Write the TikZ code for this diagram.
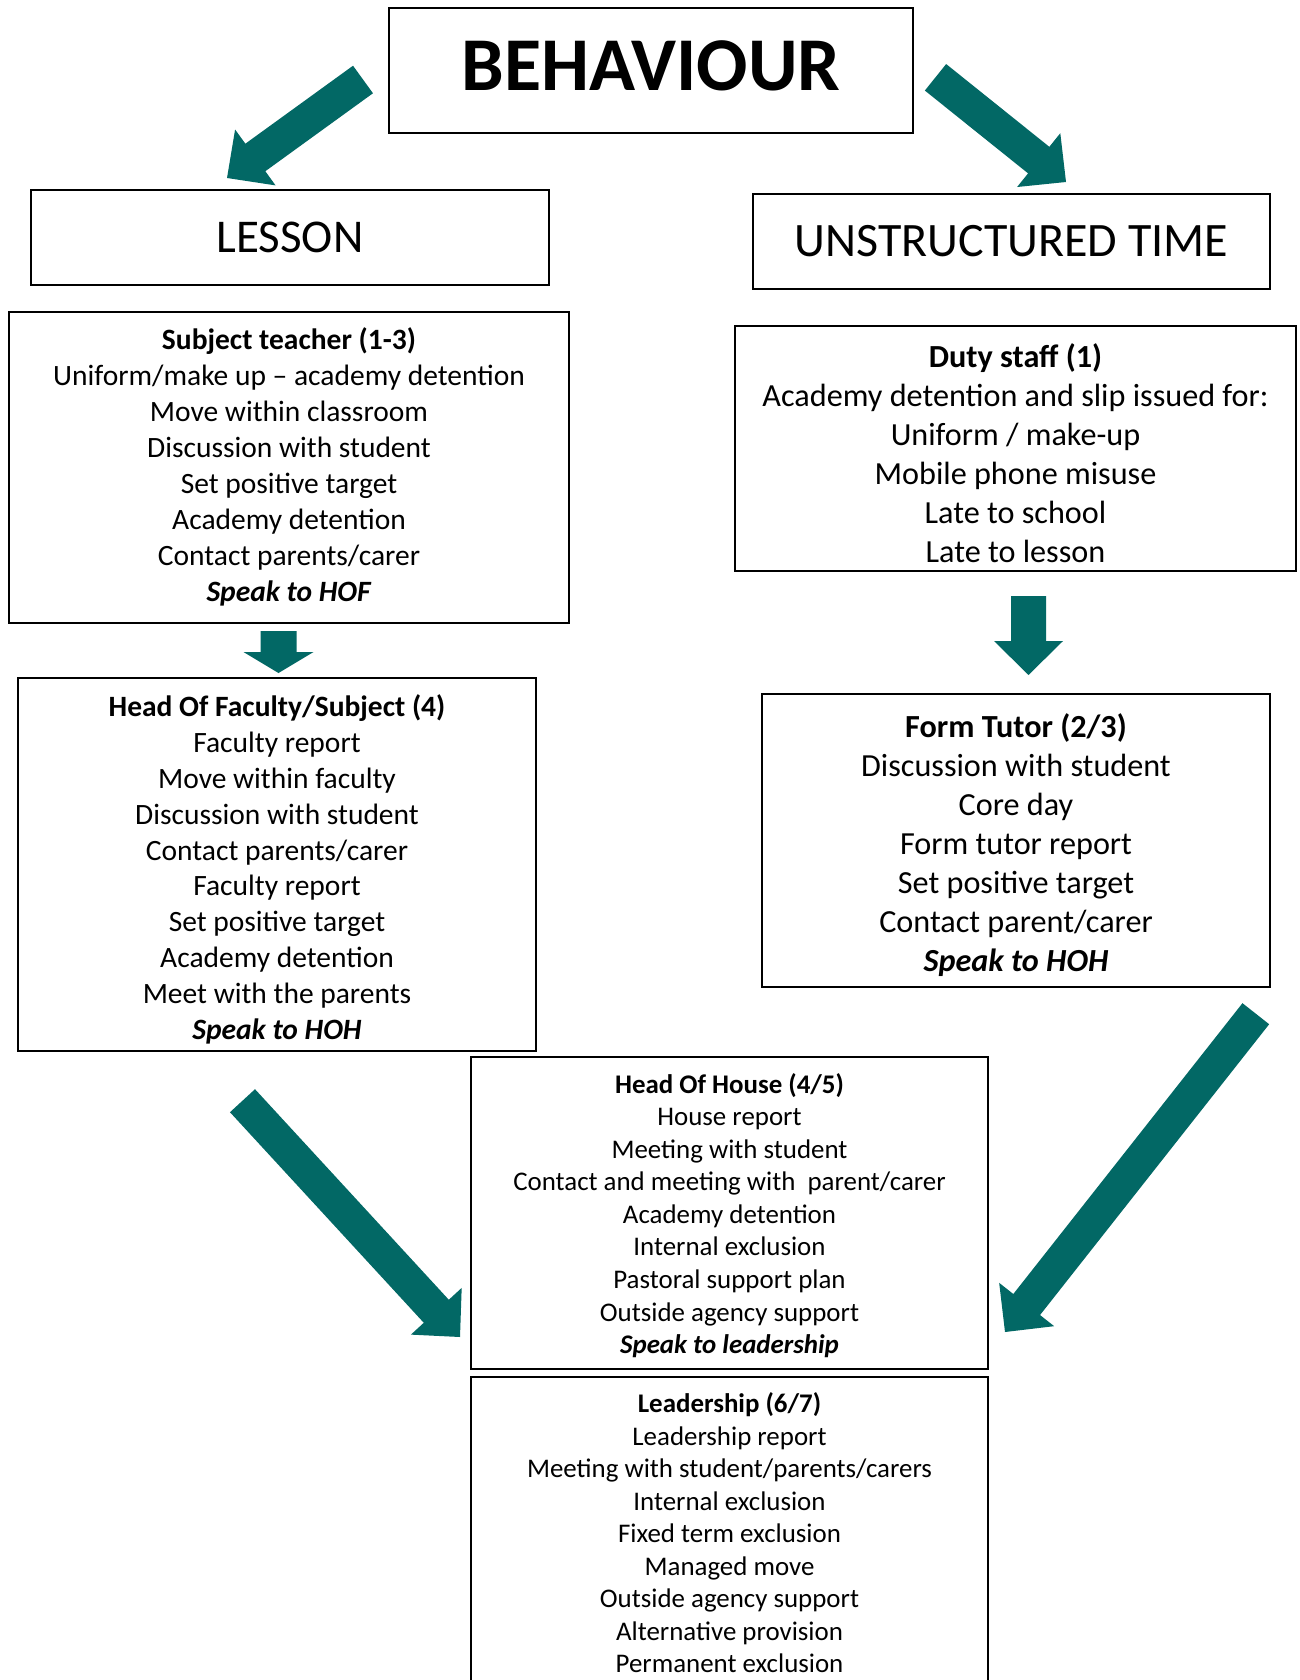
\documentclass[tikz,border=0pt]{standalone}
\usepackage{fontspec}
\setmainfont{Carlito}
\usetikzlibrary{calc}
\definecolor{arrowteal}{RGB}{2,104,101}
\newcommand{\blockarrow}[6]{%
  \coordinate (#1b) at ($(#3)!#6!(#2)$);
  \fill[arrowteal] ($(#2)!#4!90:(#3)$) -- ($(#1b)!#4!90:(#3)$) -- ($(#1b)!#5!90:(#3)$) -- (#3)
    -- ($(#1b)!#5!-90:(#3)$) -- ($(#1b)!#4!-90:(#3)$) -- ($(#2)!#4!-90:(#3)$) -- cycle;
}
\newcommand{\boxlines}[2]{\raisebox{-#1}[\height][\depth]{\begin{tabular}{@{}c@{}}#2\end{tabular}}}
\tikzset{
  box/.style={draw=black, line width=2pt, fill=white, rectangle, inner sep=0pt},
  fbig/.style={font={\fontsize{29.5}{35.9}\selectfont}},
  fmid/.style={font={\fontsize{32.2}{39}\selectfont}},
  fsmall/.style={font={\fontsize{26.9}{32.55}\selectfont}},
}
\begin{document}
\begin{tikzpicture}[x=1pt,y=-1pt]
\useasboundingbox (0,0) rectangle (1300,1680);
\fill[white] (0,0) rectangle (1300,1680);
\begin{scope}
\clip (0,0) rectangle (1300,1680);
\node[box, minimum width=524, minimum height=125, font={\fontsize{76}{80}\selectfont\bfseries}] (beh) at (651,70.5) {\raisebox{5pt}[\height][\depth]{BEHAVIOUR}};
\node[box, minimum width=518, minimum height=95, font={\fontsize{47}{52}\selectfont}] (lesson) at (290,237.5) {LESSON};
\node[box, minimum width=517, minimum height=95, font={\fontsize{48}{52}\selectfont}] (unstr) at (1011.5,241.5) {UNSTRUCTURED TIME};
\node[box, fbig, minimum width=560, minimum height=311] (subj) at (289,467.5) {\boxlines{0.9pt}{\textbf{Subject teacher (1-3)}\\Uniform/make up – academy detention\\Move within classroom\\Discussion with student\\Set positive target\\Academy detention\\Contact parents/carer\\\textbf{\itshape Speak to HOF}}};
\node[box, fmid, minimum width=561, minimum height=245] (duty) at (1015.5,448.5) {\boxlines{8.7pt}{\textbf{Duty staff (1)}\\Academy detention and slip issued for:\\Uniform / make-up\\Mobile phone misuse\\Late to school\\Late to lesson}};
\node[box, fbig, minimum width=518, minimum height=373] (hof) at (277,864.5) {\boxlines{6.3pt}{\textbf{Head Of Faculty/Subject (4)}\\Faculty report\\Move within faculty\\Discussion with student\\Contact parents/carer\\Faculty report\\Set positive target\\Academy detention\\Meet with the parents\\\textbf{\itshape Speak to HOH}}};
\node[box, fmid, minimum width=508, minimum height=293] (form) at (1016,840.5) {\boxlines{5.7pt}{\textbf{Form Tutor (2/3)}\\Discussion with student\\Core day\\Form tutor report\\Set positive target\\Contact parent/carer\\\textbf{\itshape Speak to HOH}}};
\node[box, fsmall, minimum width=517, minimum height=312] (hoh) at (729.5,1213) {\boxlines{3.9pt}{\textbf{Head Of House (4/5)}\\House report\\Meeting with student\\Contact and meeting with\ \ parent/carer\\Academy detention\\Internal exclusion\\Pastoral support plan\\Outside agency support\\\textbf{\itshape Speak to leadership}}};
\node[box, fsmall, minimum width=517, minimum height=314] (lead) at (729.5,1534) {\boxlines{2.2pt}{\textbf{Leadership (6/7)}\\Leadership report\\Meeting with student/parents/carers\\Internal exclusion\\Fixed term exclusion\\Managed move\\Outside agency support\\Alternative provision\\Permanent exclusion}};
\end{scope}
% arrows
\coordinate (a1t) at (363,79.5);   \coordinate (a1h) at (227,178);
\coordinate (a2t) at (935.5,77.3); \coordinate (a2h) at (1066,182);
\coordinate (a3t) at (278.5,631);  \coordinate (a3h) at (278.5,673);
\coordinate (a4t) at (1028.5,596); \coordinate (a4h) at (1028.5,675);
\coordinate (a5t) at (242.5,1100.7); \coordinate (a5h) at (460,1337);
\coordinate (a6t) at (1255.8,1013.7); \coordinate (a6h) at (1005,1332);
\blockarrow{a1}{a1t}{a1h}{17pt}{34.5pt}{35pt}
\blockarrow{a2}{a2t}{a2h}{17pt}{34.5pt}{35pt}
\blockarrow{a3}{a3t}{a3h}{18pt}{35pt}{21pt}
\blockarrow{a4}{a4t}{a4h}{17.5pt}{34.5pt}{34pt}
\blockarrow{a5}{a5t}{a5h}{17pt}{34.5pt}{35pt}
\blockarrow{a6}{a6t}{a6h}{17pt}{35pt}{35pt}
\end{tikzpicture}
\end{document}
